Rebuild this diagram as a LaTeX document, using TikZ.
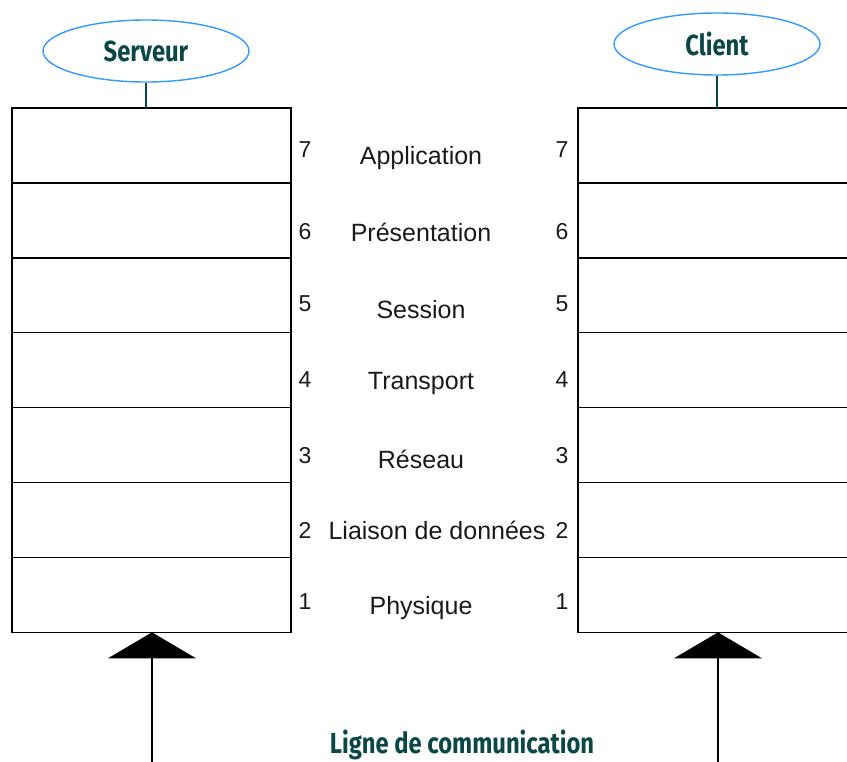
\documentclass[tikz,border=0pt]{standalone}
\usepackage{fontspec}
\setmainfont{Liberation Sans}
\newfontfamily\headfont[FakeStretch=0.82]{Fira Sans}
\usetikzlibrary{arrows.meta,positioning,shapes.geometric}
\definecolor{ink}{HTML}{1A1A1A}
\definecolor{hostink}{HTML}{0B4747}
\definecolor{ovalblue}{HTML}{3399FF}
\tikzset{
  layer/.style={draw=black,line width=1.4pt,minimum width=279pt,
                minimum height=74.9pt,inner sep=0pt,outer sep=0pt},
  host/.style={ellipse,draw=ovalblue,line width=1.4pt,inner sep=0pt,
               minimum width=206pt,minimum height=62pt,text=hostink,
               font=\headfont\bfseries\fontsize{29}{29}\selectfont},
  num/.style={font=\fontsize{23}{23}\selectfont,text=ink},
  layername/.style={font=\fontsize{25}{25}\selectfont,text=ink},
  feed/.style={line width=1.4pt,-{Triangle[width=88pt,length=26pt]}}
}

\begin{document}
\begin{tikzpicture}[x=1pt,y=-1pt]
  \clip (0,0) rectangle (847,762);

  % Two stacks of seven layers
  \node[layer] (s7) at (151.5,145.5) {};
  \node[layer] (c7) at (717.5,145.5) {};
  \foreach \i/\j in {7/6,6/5,5/4,4/3,3/2,2/1}{
    \node[layer,below=0pt of s\i] (s\j) {};
    \node[layer,below=0pt of c\i] (c\j) {};
  }

  % Hosts
  \node[host] (serveur) at (146,51) {Serveur};
  \node[host] (client) at (717,44) {Client};
  \draw[hostink,line width=1.2pt] (serveur.south) -- (serveur.south |- s7.north);
  \draw[hostink,line width=1.2pt] (client.south) -- (client.south |- c7.north);

  % Layer numbers and names
  \foreach \n/\t/\x/\y/\ny in {7/Application/421/158/150, 6/Présentation/421/232/232,
                          5/Session/421/310/304, 4/Transport/421/383/380,
                          3/Réseau/421/459/456, 2/Liaison de données/437/530/530,
                          1/Physique/421/608/602}{
    \node[num] (nl\n) at (305,\ny) {\n};
    \node[num] (nr\n) at (562,\ny) {\n};
    \node[layername] (name\n) at (\x,\y) {\t};
  }

  % Communication line
  \coordinate (lineL) at (152,775);
  \coordinate (lineR) at (718,775);
  \draw[feed] (lineL) -- (lineL |- s1.south);
  \draw[feed] (lineR) -- (lineR |- c1.south);
  \node[text=hostink,font=\headfont\bfseries\fontsize{29}{29}\selectfont]
       (ligne) at (462,745) {Ligne de communication};
\end{tikzpicture}
\end{document}
